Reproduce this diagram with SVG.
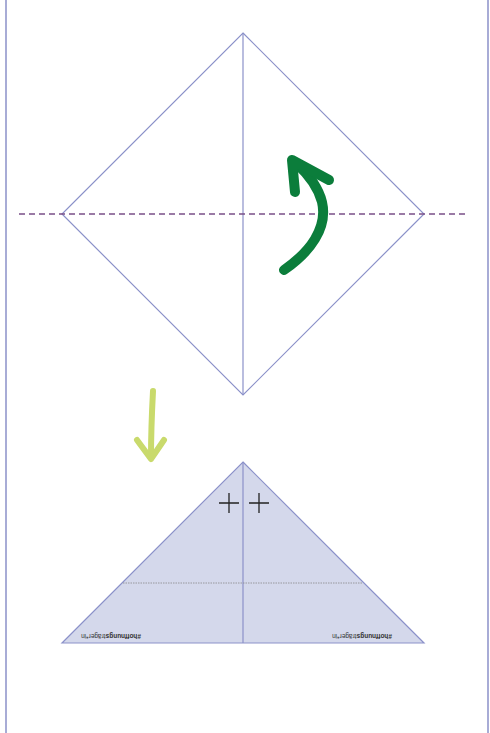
<svg xmlns="http://www.w3.org/2000/svg" width="490" height="733" viewBox="0 0 490 733">
<style>
.fold{fill:none;stroke:#8b91c9;stroke-width:1.2}
.border{stroke:#8b91c9;stroke-width:1.5}
.dash{stroke:#7a4f88;stroke-width:1.3;stroke-dasharray:6,4;fill:none}
.lbl{font-family:"Liberation Sans",Arial,sans-serif;font-size:6.5px;fill:#333}
</style>
<rect width="490" height="733" fill="#fff"/>
<g id="frame">
<line class="border" x1="6" y1="0" x2="6" y2="733"/>
<line class="border" x1="488" y1="0" x2="488" y2="733"/>
</g>
<g id="diamond">
<polygon class="fold" points="243,33 424,214 243,395 62,214"/>
<line class="fold" x1="243" y1="33" x2="243" y2="395"/>
</g>
<g id="triangle">
<polygon points="243,462 424,643 62,643" fill="#d4d8eb" stroke="#8b91c9" stroke-width="1.2"/>
<line class="fold" x1="243" y1="462" x2="243" y2="643"/>
<line x1="123" y1="583" x2="363" y2="583" stroke="#888" stroke-width="0.8" stroke-dasharray="1.5,1"/>
<path d="M219,503 H239 M229,493 V513 M249,503 H269 M259,493 V513" stroke="#222" stroke-width="1.3" fill="none"/>
<text class="lbl" transform="translate(111,634) rotate(180)" text-anchor="middle"><tspan font-weight="bold">#hoffnungs</tspan>träger*in</text>
<text class="lbl" transform="translate(362,634) rotate(180)" text-anchor="middle"><tspan font-weight="bold">#hoffnungs</tspan>träger*in</text>
</g>
<g id="connectors">
<line class="dash" x1="19" y1="214" x2="467" y2="214"/>
<g fill="none" stroke="#0b7d3b" stroke-width="10" stroke-linecap="round" stroke-linejoin="round">
<path d="M284,270 C310,252 328,228 322,202 C318,186 308,174 296,163"/>
<path d="M295,192 L292,160 L329,180"/>
</g>
<g fill="none" stroke="#c9da6c" stroke-width="6" stroke-linecap="round" stroke-linejoin="round">
<path d="M153,391 C152,410 151,435 151,457"/>
<path d="M137,440 L151,459 L164,440"/>
</g>
</g>
</svg>
